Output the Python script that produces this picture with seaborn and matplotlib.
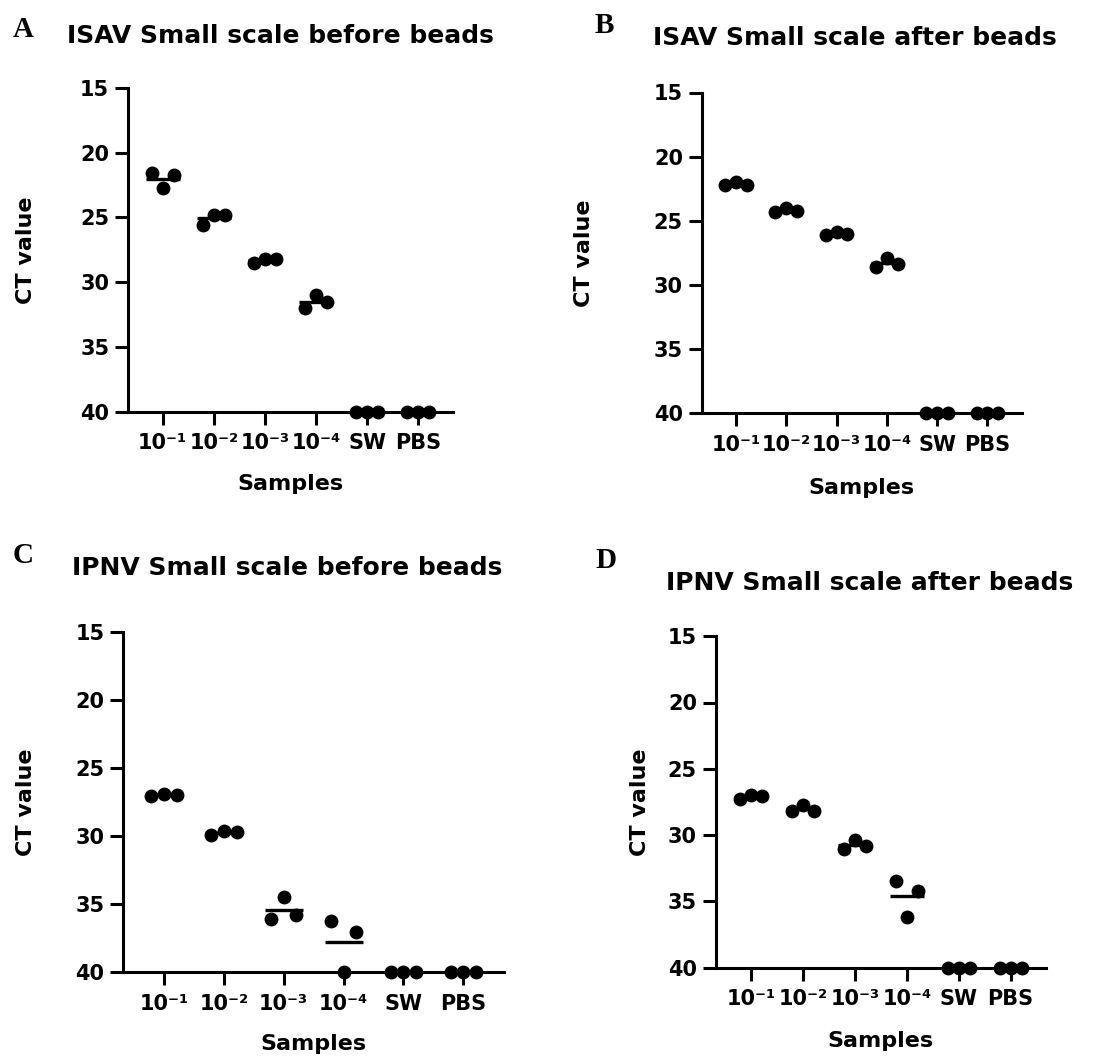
import matplotlib
matplotlib.use("Agg")
import matplotlib.pyplot as plt
import seaborn as sns
import pandas as pd

# Sample categories and tick labels
samples = ["1e-1", "1e-2", "1e-3", "1e-4", "SW", "PBS"]
tick_labels = ["10⁻¹", "10⁻²", "10⁻³", "10⁻⁴", "SW", "PBS"]
replicates = ["r1", "r2", "r3"]

# CT values (3 replicates per sample, left/centre/right)
isav_before = [[21.6, 22.7, 21.7], [25.6, 24.8, 24.8], [28.5, 28.2, 28.2],
               [32.0, 31.0, 31.5], [40, 40, 40], [40, 40, 40]]
isav_after = [[22.2, 21.95, 22.2], [24.3, 24.0, 24.2], [26.1, 25.9, 26.05],
              [28.6, 27.9, 28.4], [40, 40, 40], [40, 40, 40]]
ipnv_before = [[27.05, 26.9, 27.0], [29.9, 29.6, 29.7], [36.05, 34.5, 35.8],
               [36.25, 40.0, 37.05], [40, 40, 40], [40, 40, 40]]
ipnv_after = [[27.3, 26.95, 27.05], [28.2, 27.7, 28.15], [31.05, 30.4, 30.8],
              [33.45, 36.15, 34.2], [40, 40, 40], [40, 40, 40]]

titles = ["ISAV Small scale before beads", "ISAV Small scale after beads",
          "IPNV Small scale before beads", "IPNV Small scale after beads"]
letters = ["A", "B", "C", "D"]
datasets = [isav_before, isav_after, ipnv_before, ipnv_after]

sns.set_theme(style="ticks")
plt.rcParams["font.family"] = ["DejaVu Sans"]
plt.rcParams["font.weight"] = "bold"
plt.rcParams["text.color"] = "black"
plt.rcParams["axes.labelcolor"] = "black"
plt.rcParams["xtick.color"] = "black"
plt.rcParams["ytick.color"] = "black"

W, H = 1097, 1064
fig = plt.figure(figsize=(W / 100, H / 100), dpi=100)
fig.patch.set_facecolor("white")

# layout in pixels: axes box (left, top, right, bottom), title (x, baseline), letter (x, baseline)
layout = [
    dict(box=(128, 88, 453, 411.7), title=(67, 43), letter=(13, 37), ylab=36, xlab=474),
    dict(box=(701.7, 92.5, 1021.7, 413.3), title=(653, 45), letter=(595, 33), ylab=594, xlab=478),
    dict(box=(123.3, 632, 504, 972.3), title=(72, 575), letter=(13, 563), ylab=36, xlab=1034),
    dict(box=(715.7, 636.2, 1046, 967.7), title=(666, 590), letter=(595, 568), ylab=650, xlab=1031),
]

for data, title, letter, lay in zip(datasets, titles, letters, layout):
    l, t, r, b = lay["box"]
    ax = fig.add_axes([l / W, 1 - b / H, (r - l) / W, (b - t) / H])
    ax.set_facecolor("white")

    df = pd.DataFrame({
        "sample": [s for s, vals in zip(samples, data) for _ in vals],
        "rep": [rp for vals in data for rp in replicates[:len(vals)]],
        "ct": [v for vals in data for v in vals],
    })

    # mean line
    cat_px = (r - l) / 6.35
    sns.pointplot(data=df, x="sample", y="ct", order=samples, estimator="mean",
                  errorbar=None, color="black", markers="_", linestyles="none",
                  markersize=cat_px * 0.65 * 0.72, markeredgewidth=2.4, ax=ax, zorder=2)
    n_before = len(ax.collections)
    sns.stripplot(data=df, x="sample", y="ct", order=samples, hue="rep",
                  hue_order=replicates, palette=["black"] * 3, dodge=True,
                  jitter=False, size=10, legend=False, ax=ax, zorder=3)
    # pull the replicate columns a little closer together, like the original
    for coll in ax.collections[n_before:]:
        off = coll.get_offsets().copy()
        centre = off[:, 0].round()
        off[:, 0] = centre + (off[:, 0] - centre) * 0.8
        coll.set_offsets(off)
    for coll in ax.collections:
        coll.set_clip_on(False)
    for line in ax.lines:
        line.set_clip_on(False)

    ax.set_ylim(40, 15)
    ax.set_yticks([15, 20, 25, 30, 35, 40])
    ax.set_xlim(-0.68, 5.68)
    ax.set_xticks(range(len(samples)))
    ax.set_xticklabels(tick_labels)
    ax.tick_params(axis="both", labelsize=15, width=2.2, length=9.5, color="black",
                   labelcolor="black")
    ax.tick_params(axis="x", pad=6)
    ax.tick_params(axis="y", pad=4)
    for lab in ax.get_xticklabels() + ax.get_yticklabels():
        lab.set_fontweight("bold")
    sns.despine(ax=ax)
    for sp in ["left", "bottom"]:
        ax.spines[sp].set_linewidth(2.2)
        ax.spines[sp].set_color("black")

    ax.set_xlabel("Samples", fontsize=16, fontweight="bold", color="black")
    ax.set_ylabel("CT value", fontsize=16, fontweight="bold", color="black")
    ax.yaxis.set_label_coords((lay["ylab"] - l) / (r - l), 0.5)
    ax.xaxis.set_label_coords(0.5, -(lay["xlab"] - b) / (b - t))
    ax.xaxis.label.set_va("top")

    tx, ty = lay["title"]
    fig.text(tx / W, 1 - ty / H, title, fontsize=18, fontweight="bold",
             ha="left", va="baseline", color="black")
    lx, ly = lay["letter"]
    fig.text(lx / W, 1 - ly / H, letter, fontsize=21, fontweight="bold",
             family="Liberation Serif", ha="left", va="baseline", color="black")

fig.savefig("out.png", dpi=100, facecolor="white")
